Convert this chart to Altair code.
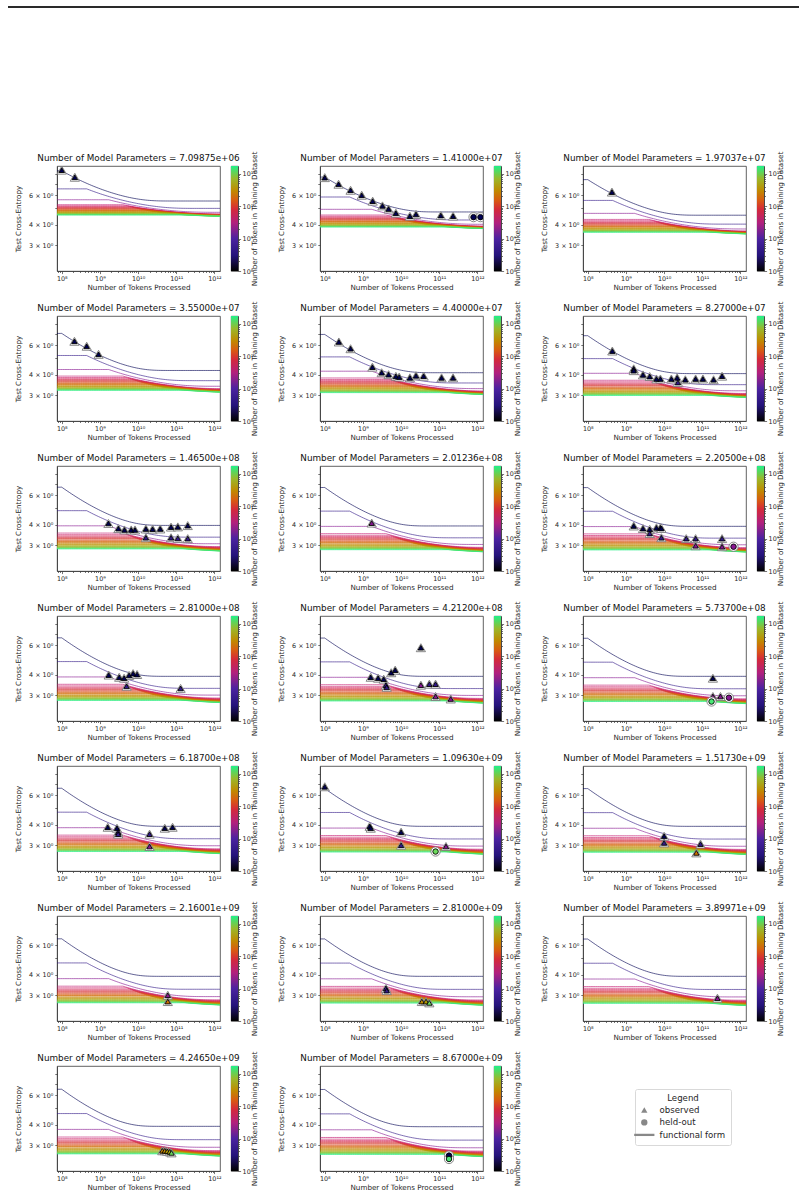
import math

import altair as alt
import pandas as pd

# ---------------------------------------------------------------- data
N_PARAMS = [7.09875e6, 1.41e7, 1.97037e7, 3.55e7, 4.4e7, 8.27e7, 1.465e8, 2.01236e8,
            2.205e8, 2.81e8, 4.212e8, 5.737e8, 6.187e8, 1.0963e9, 1.5173e9,
            2.16001e9, 2.81e9, 3.89971e9, 4.2465e9, 8.67e9]

# loss of each model size with unlimited data, and the plateau reached by the
# smallest (1e8-token) dataset after many repetitions
LOSS_INF = [4.37, 3.67, 3.40, 3.02, 2.92, 2.80, 2.66, 2.63, 2.62, 2.60,
            2.58, 2.56, 2.56, 2.54, 2.53, 2.51, 2.50, 2.49, 2.47, 2.45]
FLOOR_SMALLEST = [5.54, 4.76, 4.55, 4.23, 4.10, 4.05, 3.95, 3.92, 3.90, 3.90,
                  3.90, 3.90, 3.90, 3.90, 3.90, 3.90, 3.90, 3.90, 3.90, 3.88]

# unique-token dataset sizes drawn as functional-form curves
UNIQUE_TOKENS = [1e8, 4.5e8, 1.7e9, 4e9, 5e9, 6e9, 7e9, 8e9, 9e9, 1e10, 1.2e10,
                 1.4e10, 1.6e10, 1.8e10, 2e10, 2.5e10, 3e10, 3.5e10, 4e10, 5e10,
                 6e10, 7e10, 8e10, 9e10, 1e11, 1.2e11, 1.4e11, 1.72e11]

SMALLEST = 1e8
COEF = 4.05        # first-epoch excess loss of the smallest dataset
DATA_EXP = 0.41    # how excess loss falls with more unique tokens
REPEAT_EXP = 0.27  # how excess loss falls with repeated epochs

# observed runs: panel index, tokens processed, test loss, unique tokens
OBS_PANEL = ([0] * 2 + [1] * 12 + [2] + [3] * 3 + [4] * 12 + [5] * 15 + [6] * 15
             + [7] + [8] * 13 + [9] * 8 + [10] * 13 + [11] * 3 + [12] * 8
             + [13] * 6 + [14] * 4 + [15] * 2 + [16] * 5 + [17] + [18] * 5)
OBS_TOKENS = [
    1e8, 2.2e8,
    1e8, 2.3e8, 4.75e8, 9.3e8, 1.8e9, 3.25e9, 4.7e9, 7.3e9, 1.7e10, 2.46e10, 1.1e11, 2.3e11,
    4.3e8,
    2.15e8, 4.5e8, 9.2e8,
    2.34e8, 4.75e8, 1.77e9, 3.1e9, 4.7e9, 7.3e9, 8.9e9, 1.7e10, 2.46e10, 3.9e10, 1.15e11, 2.3e11,
    4.4e8, 1.6e9, 1.6e9, 2.8e9, 4.2e9, 6.3e9, 8e9, 1.55e10, 2.2e10, 2.3e10, 3.6e10, 6.7e10,
    1.04e11, 1.98e11, 3.3e11,
    1.67e9, 3.05e9, 4.4e9, 6.6e9, 8.3e9, 1.6e10, 2.4e10, 3.8e10, 7.3e10, 1.1e11, 2e11,
    1.6e10, 7.3e10, 1.1e11, 2e11,
    1.7e9,
    1.6e9, 2.8e9, 4.2e9, 6.3e9, 8e9, 8.5e9, 4.2e9, 8.5e9, 3.8e10, 6.7e10, 3.3e11, 6.7e10, 3.3e11,
    1.7e9, 3.2e9, 4.3e9, 5.8e9, 7.4e9, 9.4e9, 5e9, 1.3e11,
    1.6e9, 2.5e9, 3.5e9, 4e9, 4.2e9, 5.5e9, 7e9, 3.3e10, 3.3e10, 5.5e10, 8e10, 8e10, 2e11,
    1.9e11, 1.9e11, 3e11,
    1.6e9, 2.8e9, 3e9, 3e9, 2e10, 5e10, 8e10, 2e10,
    1e8, 1.5e9, 1.6e9, 1e10, 1e10, 1.5e11,
    1e10, 1e10, 9e10, 7e10,
    6e10, 6e10,
    4e9, 4.2e9, 3.5e10, 4.5e10, 5.5e10,
    2.5e11,
    4.3e10, 5e10, 5.8e10, 6.7e10, 7.5e10,
]
OBS_LOSS = [
    8.5, 7.7,
    7.66, 6.99, 6.43, 6.0, 5.53, 5.18, 4.96, 4.68, 4.49, 4.6, 4.53, 4.49,
    6.27,
    6.34, 5.92, 5.29,
    6.28, 5.72, 4.43, 4.1, 3.99, 3.9, 3.86, 3.82, 3.93, 3.91, 3.82, 3.82,
    5.54, 4.33, 4.22, 3.98, 3.89, 3.76, 3.76, 3.76, 3.82, 3.58, 3.72, 3.76,
    3.76, 3.72, 3.91,
    4.06, 3.78, 3.71, 3.71, 3.71, 3.76, 3.75, 3.76, 3.86, 3.87, 3.94,
    3.33, 3.33, 3.3, 3.29,
    4.08,
    3.92, 3.78, 3.74, 3.82, 3.82, 3.79, 3.53, 3.33, 3.29, 3.29, 3.29, 2.98, 2.94,
    3.97, 3.85, 3.8, 3.95, 4.05, 4.0, 3.4, 3.3,
    3.85, 3.8, 3.75, 3.45, 3.35, 4.1, 4.25, 5.8, 3.45, 3.5, 3.5, 2.95, 2.85,
    3.8, 2.95, 2.95,
    3.85, 3.8, 3.6, 3.5, 3.5, 3.8, 3.85, 2.95,
    6.75, 3.9, 3.8, 3.6, 3.0, 2.95,
    3.4, 3.1, 3.05, 2.7,
    3.0, 2.75,
    3.3, 3.2, 2.75, 2.75, 2.7,
    2.88,
    2.78, 2.78, 2.76, 2.74, 2.7,
]
OBS_UNIQUE = [
    1e8, 1e8,
    1e8, 1e8, 1e8, 1e8, 1e8, 1e8, 1e8, 1e8, 1e8, 1e8, 1e8, 1e8,
    1e8,
    1e8, 1e8, 1e8,
    1e8, 1e8, 1e8, 1e8, 1e8, 1e8, 1e8, 1e8, 1e8, 1e8, 1e8, 1e8,
    1e8, 1e8, 1e8, 1e8, 1e8, 1e8, 1e8, 1e8, 1e8, 4.5e8, 1e8, 1e8,
    1e8, 1e8, 1e8,
    1e8, 1e8, 1e8, 1e8, 1e8, 1e8, 1e8, 1e8, 1e8, 1e8, 1e8,
    4.5e8, 4.5e8, 4.5e8, 4.5e8,
    1.7e9,
    1e8, 1e8, 1e8, 1e8, 1e8, 1e8, 4.5e8, 4.5e8, 4.5e8, 4.5e8, 4.5e8, 1.7e9, 1.7e9,
    1e8, 1e8, 1e8, 1e8, 1e8, 1e8, 4.5e8, 4.5e8,
    1e8, 1e8, 1e8, 4.5e8, 4.5e8, 1e8, 1e8, 1e8, 1.7e9, 4.5e8, 4.5e8, 1.7e9, 1.7e9,
    1e8, 1.7e9, 1.7e9,
    1e8, 1e8, 4.5e8, 4.5e8, 4.5e8, 1e8, 1e8, 1.7e9,
    1e8, 1e8, 1e8, 1e8, 4.5e8, 1.7e9,
    1e8, 4.5e8, 4.5e8, 2e10,
    1.7e9, 2e10,
    4.5e8, 4.5e8, 3e10, 4e10, 1.2e11,
    1.7e9,
    2.5e10, 3e10, 4e10, 5e10, 1.2e11,
]

# held-out runs
HELD_PANEL = [1, 1, 8, 11, 11, 13, 19, 19]
HELD_TOKENS = [7.9e11, 1.2e12, 6.6e11, 1.75e11, 5e11, 8e10, 1.8e11, 1.8e11]
HELD_LOSS = [4.43, 4.43, 2.94, 2.75, 2.9, 2.75, 2.6, 2.48]
HELD_UNIQUE = [1e8, 1e8, 1.7e9, 1.5e11, 1.7e9, 1.2e11, 1e8, 1.5e11]

# colour map for unique tokens (log spaced)
CMAP_AT = [1e8, 3e8, 1e9, 3e9, 8e9, 1.5e10, 3e10, 7e10, 1.72e11]
CMAP_COLORS = ['#000000', '#24137a', '#4c22a0', '#b0207e', '#d42a3a',
               '#d85a12', '#c08a00', '#9ab82a', '#22f088']

LEGEND_ITEMS = ['observed', 'held-out', 'functional form']
LEGEND_SHAPES = ['triangle-up', 'circle', 'M-3.2,-0.36H3.2V0.36H-3.2Z']

T_MIN, T_MAX = 7.5e7, 1.4e12
Y_MIN, Y_MAX = 2.1, 9.0
CB_MIN, CB_MAX = 1e8, 1.72e11

PLOT_W, PLOT_H = 163, 105
CB_W = 7
CB_GAP = 11
GUTTER = 60
FONT = 'DejaVu Sans'
INK = '#262626'
TICK_FS = 6.4
AXIS_TITLE_FS = 7.2
TITLE_FS = 8.8


# ---------------------------------------------------------------- model
def functional_form(i, unique, tokens):
    base = LOSS_INF[i]
    floor_ratio = (FLOOR_SMALLEST[i] - base) / COEF
    r_star = floor_ratio ** (-1.0 / REPEAT_EXP) - 1.0
    first = COEF * (SMALLEST / unique) ** DATA_EXP
    repeats = max(tokens / unique - 1.0, 0.0)
    effective = 1.0 + r_star * (1.0 - math.exp(-repeats / r_star))
    return base + first * effective ** (-REPEAT_EXP)


GRID = [T_MIN * (T_MAX / T_MIN) ** (k / 90) for k in range(91)]


def curves(i):
    rows = []
    for u in UNIQUE_TOKENS:
        ts = sorted(set(GRID + ([u] if T_MIN < u < T_MAX else [])))
        for t in ts:
            rows.append({'tokens': t, 'loss': functional_form(i, u, t), 'unique': u})
    return pd.DataFrame(rows)


# ---------------------------------------------------------------- axes
SUPS = ['\u2070', '\u00b9', '\u00b2', '\u00b3', '\u2074', '\u2075', '\u2076',
        '\u2077', '\u2078', '\u2079']


def sup(n):
    return ''.join(SUPS[int(c)] for c in str(n))


DEC_LABELS = ['10' + sup(k) for k in range(13)]
LOG10 = 'log(datum.value)/LN10'
IS_MAJOR = f'abs({LOG10} - round({LOG10})) < 0.01'
DEC_EXPR = (f"{IS_MAJOR} ? {DEC_LABELS!r}[round({LOG10})] : ''")


def log_ticks(lo, hi):
    vals = []
    for e in range(7, 13):
        for m in range(1, 10):
            v = m * 10.0 ** e
            if lo * 0.999 <= v <= hi * 1.001:
                vals.append(v)
    return vals


X_TICKS = log_ticks(T_MIN, T_MAX)
CB_TICKS = log_ticks(CB_MIN, CB_MAX)
Y_TICKS = [3, 4, 5, 6, 7, 8]
Y_EXPR = ("datum.value == 3 ? '3 \u00d7 10\u2070' : datum.value == 4 ? "
          "'4 \u00d7 10\u2070' : datum.value == 6 ? '6 \u00d7 10\u2070' : ''")
TICK_LEN = {'condition': {'test': IS_MAJOR, 'value': 2.6}, 'value': 1.5}

color_scale = alt.Scale(type='log', domain=CMAP_AT, range=CMAP_COLORS)

x_enc = alt.X('tokens:Q',
              scale=alt.Scale(type='log', domain=[T_MIN, T_MAX], nice=False),
              axis=alt.Axis(values=X_TICKS, labelExpr=DEC_EXPR, tickSize=TICK_LEN,
                            title='Number of Tokens Processed', labelFontSize=TICK_FS,
                            titleFontSize=AXIS_TITLE_FS, labelPadding=1.5, titlePadding=2,
                            labelFlush=False, labelOverlap=False))
y_enc = alt.Y('loss:Q',
              scale=alt.Scale(type='log', domain=[Y_MIN, Y_MAX], nice=False),
              axis=alt.Axis(values=Y_TICKS, labelExpr=Y_EXPR, tickSize=2.2,
                            title='Test Cross-Entropy', labelFontSize=TICK_FS,
                            titleFontSize=AXIS_TITLE_FS, labelPadding=2, titlePadding=6,
                            labelFlush=False, labelOverlap=False))
c_enc = alt.Color('unique:Q', scale=color_scale, legend=None)

BLANK = pd.DataFrame({'k': [0]})


def blank(w, h):
    return alt.Chart(BLANK).mark_point(opacity=0).encode(
        x=alt.value(0), y=alt.value(0)
    ).properties(width=w, height=h, view=alt.ViewBackground(stroke='transparent'))


def plot_panel(i):
    obs = pd.DataFrame({'tokens': [t for p, t in zip(OBS_PANEL, OBS_TOKENS) if p == i],
                        'loss': [v for p, v in zip(OBS_PANEL, OBS_LOSS) if p == i],
                        'unique': [u for p, u in zip(OBS_PANEL, OBS_UNIQUE) if p == i]})
    held = pd.DataFrame({'tokens': [t for p, t in zip(HELD_PANEL, HELD_TOKENS) if p == i],
                         'loss': [v for p, v in zip(HELD_PANEL, HELD_LOSS) if p == i],
                         'unique': [u for p, u in zip(HELD_PANEL, HELD_UNIQUE) if p == i]})

    lines = alt.Chart(curves(i)).mark_line(strokeWidth=1, opacity=0.62, clip=True).encode(
        x=x_enc, y=y_enc, color=c_enc, detail='unique:N')
    layers = [lines]
    for df, shape in ((obs, 'triangle-up'), (held, 'circle')):
        if len(df) == 0:
            continue
        halo = alt.Chart(df).mark_point(shape=shape, size=85, filled=True, fill='white',
                                        stroke='#7a7a7a', strokeWidth=0.9,
                                        opacity=1, clip=True).encode(x=x_enc, y=y_enc)
        dot = alt.Chart(df).mark_point(shape=shape, size=30, filled=True, stroke='black',
                                       strokeWidth=0.9, opacity=1, clip=True).encode(
            x=x_enc, y=y_enc, fill=alt.Fill('unique:Q', scale=color_scale, legend=None))
        layers += [halo, dot]

    return alt.layer(*layers).properties(
        width=PLOT_W, height=PLOT_H,
        title=alt.TitleParams(f'Number of Model Parameters = {N_PARAMS[i]:.5e}',
                              anchor='middle'))


def colorbar():
    span = math.log10(CB_MAX) - math.log10(CB_MIN)
    stops = [alt.GradientStop(offset=(math.log10(v) - math.log10(CB_MIN)) / span, color=c)
             for v, c in zip(CMAP_AT, CMAP_COLORS)]
    return alt.Chart(pd.DataFrame({'lo': [CB_MIN], 'hi': [CB_MAX]})).mark_rect(
        color=alt.LinearGradient(gradient='linear', stops=stops, x1=0, x2=0, y1=1, y2=0)
    ).encode(
        y=alt.Y('lo:Q', scale=alt.Scale(type='log', domain=[CB_MIN, CB_MAX], nice=False),
                axis=alt.Axis(orient='right', values=CB_TICKS, labelExpr=DEC_EXPR,
                              tickSize=TICK_LEN, title='Number of Tokens in Training Dataset',
                              titleAngle=270, labelFontSize=TICK_FS,
                              titleFontSize=AXIS_TITLE_FS, labelPadding=1.5, titlePadding=3,
                              labelFlush=False, labelOverlap=False)),
        y2='hi:Q', x=alt.value(0), x2=alt.value(CB_W),
    ).properties(width=CB_W, height=PLOT_H)


# the legend is placed in page coordinates, inside the empty last cell
legend_chart = alt.Chart(pd.DataFrame({'kind': LEGEND_ITEMS})).mark_point(
    filled=True, opacity=0, size=40, color='#888888').encode(
    shape=alt.Shape('kind:N', scale=alt.Scale(domain=LEGEND_ITEMS, range=LEGEND_SHAPES),
                    legend=alt.Legend(title='Legend', orient='none', legendX=578, legendY=1082,
                                      titleAnchor='middle', titleFontSize=8.6,
                                      titleFontWeight='normal', labelFontSize=8.6,
                                      symbolFillColor='#888888', symbolStrokeColor='#888888',
                                      symbolOpacity=1, symbolSize=40, symbolStrokeWidth=0,
                                      strokeColor='#d9d9d9', padding=5, cornerRadius=2,
                                      rowPadding=3.5, labelOffset=11, titlePadding=3)),
).properties(width=PLOT_W, height=PLOT_H, view=alt.ViewBackground(stroke='transparent'))

# thin rule along the top edge of the page
top_rule = alt.Chart(BLANK).mark_rule(color='#2a2a2a', strokeWidth=2.2).encode(
    x=alt.value(-49), x2=alt.value(742), y=alt.value(0)
).properties(width=PLOT_W, height=114, view=alt.ViewBackground(stroke='transparent'))

# grid: 8 columns per row -> plot, colourbar, gutter, plot, colourbar, gutter, plot, colourbar
cells = [top_rule] + [blank(1, 1) for _ in range(7)]
for r in range(7):
    for c in range(3):
        i = r * 3 + c
        if i < len(N_PARAMS):
            cells += [plot_panel(i), colorbar()]
        else:
            cells += [legend_chart, blank(CB_W, 1)]
        if c < 2:
            cells.append(blank(GUTTER, 1))

chart = alt.concat(*cells, columns=8, align='each', bounds='flush',
                   spacing={'row': 45, 'column': CB_GAP}).properties(
    padding={'left': 6, 'top': 3, 'right': 0, 'bottom': 0}
).configure(font=FONT).configure_view(stroke='#3a3a3a', strokeWidth=0.8).configure_axis(
    grid=False, domainColor='#3a3a3a', domainWidth=0.8, tickColor='#3a3a3a', tickWidth=0.7,
    labelColor=INK, titleColor=INK, titleFontWeight='normal', labelFont=FONT, titleFont=FONT
).configure_title(fontSize=TITLE_FS, fontWeight='normal', color='#111111', offset=3, font=FONT
).configure_legend(labelColor=INK, titleColor=INK, labelFont=FONT, titleFont=FONT)

chart.save('out.html', embed_options={'renderer': 'svg', 'actions': False})
